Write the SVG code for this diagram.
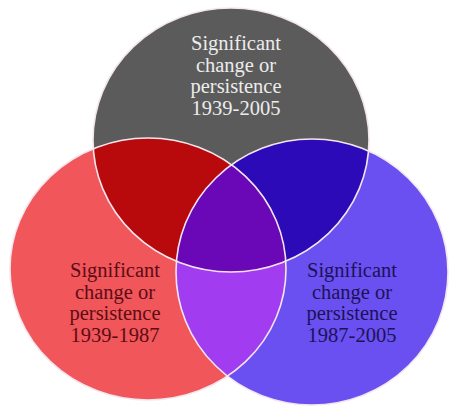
<svg xmlns="http://www.w3.org/2000/svg" width="449" height="406" viewBox="0 0 449 406">
<style>
.t{font-family:"Liberation Serif","Times New Roman",serif;font-size:20.5px;text-anchor:middle}
.ol{fill:none;stroke:#f4e6ee;stroke-width:1.6}
</style>
<defs>
<ellipse id="eg" cx="231" cy="140" rx="138" ry="132"/>
<ellipse id="er" cx="148" cy="269" rx="138" ry="131"/>
<ellipse id="eb" cx="312" cy="272" rx="136" ry="133"/>
<clipPath id="cg"><use href="#eg"/></clipPath>
<clipPath id="cb"><use href="#eb"/></clipPath>
</defs>
<rect width="449" height="406" fill="#ffffff"/>
<g id="top-circle">
<use href="#eg" fill="#5b5b5b"/>
</g>
<g id="left-circle">
<use href="#er" fill="#f0565a"/>
</g>
<g id="right-circle">
<use href="#eb" fill="#6a50f0"/>
</g>
<g id="overlaps">
<g clip-path="url(#cg)"><use href="#er" fill="#b80a0c"/></g>
<g clip-path="url(#cg)"><use href="#eb" fill="#2c0ab8"/></g>
<g clip-path="url(#cb)"><use href="#er" fill="#a23cf0"/></g>
<g clip-path="url(#cg)"><g clip-path="url(#cb)"><use href="#er" fill="#6a08b8"/></g></g>
</g>
<g id="outlines">
<use href="#eg" class="ol"/>
<use href="#er" class="ol"/>
<use href="#eb" class="ol"/>
</g>
<g id="label-top" class="t" fill="#ececec">
<text x="236" y="50">Significant</text>
<text x="236" y="71.5">change or</text>
<text x="236" y="93">persistence</text>
<text x="236" y="114.5">1939-2005</text>
</g>
<g id="label-left" class="t" fill="#5c0c14">
<text x="115" y="277">Significant</text>
<text x="115" y="298.5">change or</text>
<text x="115" y="320">persistence</text>
<text x="115" y="341.5">1939-1987</text>
</g>
<g id="label-right" class="t" fill="#1c1258">
<text x="352" y="277">Significant</text>
<text x="352" y="298.5">change or</text>
<text x="352" y="320">persistence</text>
<text x="352" y="341.5">1987-2005</text>
</g>
</svg>
